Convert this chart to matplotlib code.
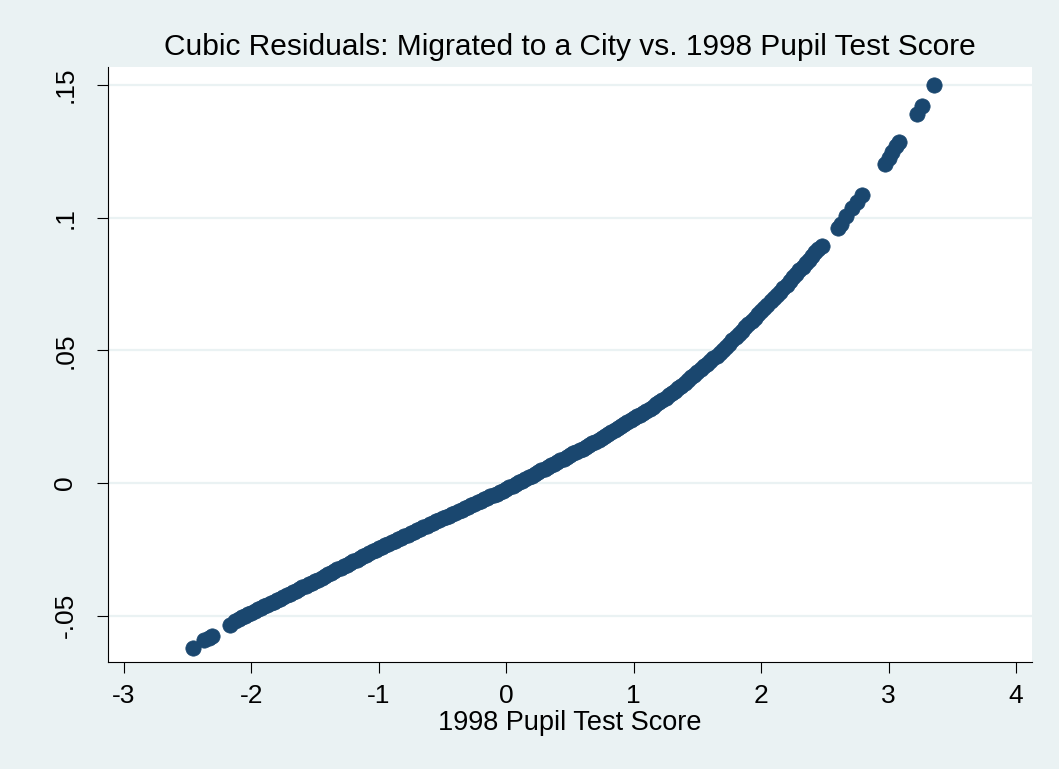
import matplotlib
matplotlib.use("Agg")
import matplotlib.pyplot as plt

# ---- data ----
# sparse lower tail
tail_lo_score = [-2.46, -2.37, -2.33, -2.31, -2.17, -2.13]
tail_lo_resid = [-0.0623, -0.0592, -0.0583, -0.0577, -0.0536, -0.0522]

# dense band (score, residual) read along the band centre
band_score = [
    -2.100, -2.075, -2.050, -2.025, -2.000, -1.975, -1.950, -1.925, -1.900, -1.875,
    -1.850, -1.825, -1.800, -1.775, -1.750, -1.725, -1.700, -1.675, -1.650, -1.625,
    -1.600, -1.575, -1.550, -1.525, -1.500, -1.475, -1.450, -1.425, -1.400, -1.375,
    -1.350, -1.325, -1.300, -1.275, -1.250, -1.225, -1.200, -1.175, -1.150, -1.125,
    -1.100, -1.075, -1.050, -1.025, -1.000, -0.975, -0.950, -0.925, -0.900, -0.875,
    -0.850, -0.825, -0.800, -0.775, -0.750, -0.725, -0.700, -0.675, -0.650, -0.625,
    -0.600, -0.575, -0.550, -0.525, -0.500, -0.475, -0.450, -0.425, -0.400, -0.375,
    -0.350, -0.325, -0.300, -0.275, -0.250, -0.225, -0.200, -0.175, -0.150, -0.125,
    -0.100, -0.075, -0.050, -0.025, 0.000, 0.025, 0.050, 0.075, 0.100, 0.125,
    0.150, 0.175, 0.200, 0.225, 0.250, 0.275, 0.300, 0.325, 0.350, 0.375,
    0.400, 0.425, 0.450, 0.475, 0.500, 0.525, 0.550, 0.575, 0.600, 0.625,
    0.650, 0.675, 0.700, 0.725, 0.750, 0.775, 0.800, 0.825, 0.850, 0.875,
    0.900, 0.925, 0.950, 0.975, 1.000, 1.025, 1.050, 1.075, 1.100, 1.125,
    1.150, 1.175, 1.200, 1.225, 1.250, 1.275, 1.300, 1.325, 1.350, 1.375,
    1.400, 1.425, 1.450, 1.475, 1.500, 1.525, 1.550, 1.575, 1.600, 1.625,
    1.650, 1.675, 1.700, 1.725, 1.750, 1.775, 1.800, 1.825, 1.850, 1.875,
    1.900, 1.925, 1.950, 1.975, 2.000, 2.025, 2.050, 2.075, 2.100, 2.125,
    2.150, 2.175, 2.200, 2.225, 2.250, 2.275, 2.300, 2.325, 2.350, 2.375,
    2.400, 2.425, 2.450, 2.475,
]
band_resid = [
    -0.0513, -0.0507, -0.0501, -0.0495, -0.0489, -0.0483, -0.0477, -0.0471, -0.0465, -0.0459,
    -0.0453, -0.0447, -0.0441, -0.0436, -0.0430, -0.0424, -0.0418, -0.0412, -0.0406, -0.0400,
    -0.0394, -0.0388, -0.0382, -0.0376, -0.0370, -0.0364, -0.0358, -0.0351, -0.0345, -0.0339,
    -0.0333, -0.0326, -0.0320, -0.0314, -0.0308, -0.0301, -0.0295, -0.0289, -0.0283, -0.0276,
    -0.0270, -0.0264, -0.0258, -0.0251, -0.0245, -0.0240, -0.0234, -0.0229, -0.0223, -0.0218,
    -0.0212, -0.0207, -0.0201, -0.0196, -0.0190, -0.0184, -0.0178, -0.0173, -0.0167, -0.0162,
    -0.0156, -0.0151, -0.0145, -0.0140, -0.0134, -0.0129, -0.0123, -0.0118, -0.0112, -0.0107,
    -0.0101, -0.0096, -0.0090, -0.0085, -0.0079, -0.0073, -0.0067, -0.0062, -0.0056, -0.0051,
    -0.0045, -0.0040, -0.0034, -0.0029, -0.0023, -0.0017, -0.0010, -0.0004, 0.0002, 0.0009,
    0.0015, 0.0022, 0.0028, 0.0035, 0.0041, 0.0047, 0.0053, 0.0060, 0.0066, 0.0073,
    0.0079, 0.0085, 0.0091, 0.0098, 0.0104, 0.0111, 0.0117, 0.0123, 0.0129, 0.0136,
    0.0142, 0.0149, 0.0155, 0.0162, 0.0169, 0.0177, 0.0184, 0.0192, 0.0199, 0.0207,
    0.0214, 0.0222, 0.0229, 0.0237, 0.0244, 0.0251, 0.0258, 0.0265, 0.0272, 0.0280,
    0.0288, 0.0297, 0.0305, 0.0314, 0.0322, 0.0331, 0.0339, 0.0348, 0.0357, 0.0367,
    0.0377, 0.0388, 0.0398, 0.0408, 0.0418, 0.0429, 0.0439, 0.0449, 0.0459, 0.0470,
    0.0480, 0.0490, 0.0500, 0.0513, 0.0525, 0.0537, 0.0549, 0.0562, 0.0574, 0.0586,
    0.0598, 0.0611, 0.0623, 0.0635, 0.0647, 0.0660, 0.0672, 0.0684, 0.0696, 0.0709,
    0.0721, 0.0735, 0.0748, 0.0762, 0.0775, 0.0789, 0.0802, 0.0815, 0.0828, 0.0842,
    0.0855, 0.0869, 0.0882, 0.0895,
]

# sparse upper tail
tail_hi_score = [2.60, 2.63, 2.67, 2.71, 2.75, 2.79, 2.97, 3.00, 3.03, 3.06, 3.08, 3.22, 3.26, 3.36]
tail_hi_resid = [0.0961, 0.0978, 0.1005, 0.1035, 0.1060, 0.1087,
                 0.1204, 0.1225, 0.1248, 0.1270, 0.1285, 0.1392, 0.1420, 0.1502]

x_ticks = [-3, -2, -1, 0, 1, 2, 3, 4]
x_tick_labels = ["-3", "-2", "-1", "0", "1", "2", "3", "4"]
y_ticks = [-0.05, 0, 0.05, 0.1, 0.15]
y_tick_labels = ["-.05", "0", ".05", ".1", ".15"]

title = "Cubic Residuals: Migrated to a City vs. 1998 Pupil Test Score"
xlabel = "1998 Pupil Test Score"

# ---- style ----
BG = "#EAF2F3"
NAVY = "#1a476f"
plt.rcParams["font.family"] = ["Liberation Sans", "DejaVu Sans"]

fig = plt.figure(figsize=(10.59, 7.69), dpi=100, facecolor=BG)
ax = fig.add_axes([108 / 1059, 1 - 662 / 769, (1032 - 108) / 1059, (662 - 67) / 769])
ax.set_facecolor("white")

for xs, ys in [(tail_lo_score, tail_lo_resid), (band_score, band_resid), (tail_hi_score, tail_hi_resid)]:
    ax.scatter(xs, ys, s=122, color=NAVY, edgecolors=NAVY, linewidths=0.5, zorder=3)

ax.set_xlim(-3.126, 4.126)
ax.set_ylim(-0.0675, 0.1568)

ax.set_xticks(x_ticks)
ax.set_xticklabels(x_tick_labels)
ax.set_yticks(y_ticks)
ax.set_yticklabels(y_tick_labels, rotation=90, va="center")

ax.grid(axis="y", color=BG, linewidth=1.6, zorder=0)
ax.grid(axis="x", visible=False)
ax.set_axisbelow(True)

for side in ["top", "right"]:
    ax.spines[side].set_visible(False)
for side in ["left", "bottom"]:
    ax.spines[side].set_color("black")
    ax.spines[side].set_linewidth(0.8)

ax.tick_params(axis="both", direction="out", length=8, width=0.8, color="black",
               labelsize=19)
ax.tick_params(axis="x", pad=8)
ax.tick_params(axis="y", pad=14)

ax.set_title(title, fontsize=21.5, pad=9)
ax.set_xlabel(xlabel, fontsize=19.5, labelpad=1)

fig.savefig("out.png", dpi=100, facecolor=BG)
